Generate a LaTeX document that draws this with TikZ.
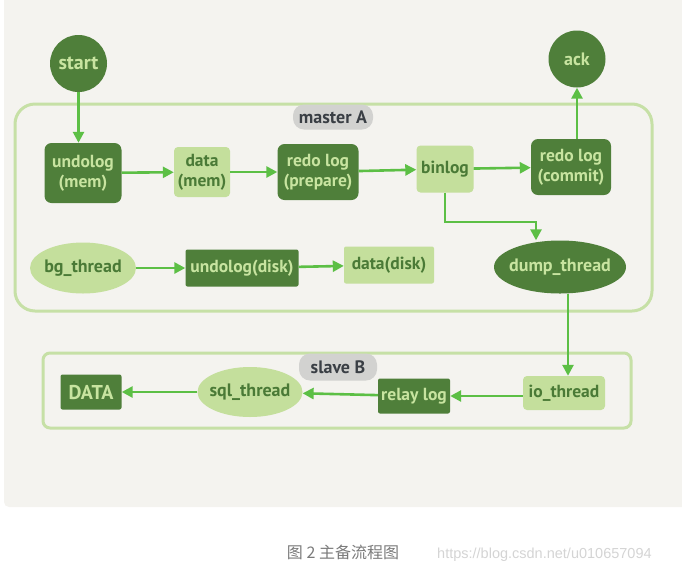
\documentclass[tikz,border=0pt]{standalone}
\usepackage{fontspec}
\setmainfont{PT Sans}
\newfontfamily\cjk{Noto Sans CJK SC}
\newfontfamily\wmfont{Liberation Sans}
\usetikzlibrary{arrows.meta,shapes.geometric}
\definecolor{bgpanel}{HTML}{F4F3EF}
\definecolor{dkgreen}{HTML}{4F7F3A}
\definecolor{ltgreen}{HTML}{C4DF9C}
\definecolor{dktext}{HTML}{4A7A36}
\definecolor{lttext}{HTML}{C8E4A0}
\definecolor{arrowgreen}{HTML}{5CBF45}
\definecolor{framegreen}{HTML}{C6E0A6}
\definecolor{labelgray}{HTML}{D2D2D0}
\definecolor{labeltext}{HTML}{3A3F45}
\definecolor{captiongray}{HTML}{7A7A7A}
\definecolor{wmgray}{HTML}{D4D4D4}
\newcommand{\zw}[1]{\makebox[0pt]{#1}}
\tikzset{
  dkbox/.style={rectangle, rounded corners=7pt, fill=dkgreen, text=lttext, font=\bfseries\fontsize{17.5}{20}\selectfont, align=center, inner sep=0pt},
  ltbox/.style={rectangle, rounded corners=4pt, fill=ltgreen, text=dktext, font=\bfseries\fontsize{17.5}{20}\selectfont, align=center, inner sep=0pt},
  dkell/.style={ellipse, fill=dkgreen, text=lttext, font=\bfseries\fontsize{18}{19}\selectfont, inner sep=0pt},
  ltell/.style={ellipse, fill=ltgreen, text=dktext, font=\bfseries\fontsize{18}{19}\selectfont, inner sep=0pt},
  tagbox/.style={rectangle, rounded corners=11pt, fill=labelgray, text=labeltext, font=\bfseries\fontsize{18}{19}\selectfont, inner sep=0pt},
  arr/.style={draw=arrowgreen, line width=2.6pt, -{Triangle[length=11pt,width=11pt]}},
  frame/.style={draw=framegreen, line width=3pt}
}
\begin{document}
\begin{tikzpicture}[x=1pt,y=-1pt]
\useasboundingbox (0,0) rectangle (682,574);
% background panel
\fill[bgpanel, rounded corners=5pt] (4,-10) rectangle (690,507);
% frames
\draw[frame, rounded corners=20pt] (15,104) rectangle (652,311);
\draw[frame, rounded corners=7pt] (43,353) rectangle (631,428);
% labels
\node[tagbox, minimum width=80pt, minimum height=25pt] (tagA) at (333,117) {master A};
\node[tagbox, minimum width=78pt, minimum height=27pt] (tagB) at (338,367) {slave B};
% nodes
\node[dkell, minimum width=57pt, minimum height=57pt, font=\bfseries\fontsize{20}{21}\selectfont] (start) at (78.5,63.5) {\zw{start}};
\node[dkell, minimum width=57pt, minimum height=57pt] (ack) at (577,59) {\zw{ack}};
\node[dkbox, minimum width=77pt, minimum height=60pt] (undomem) at (83,173) {undolog\\(mem)};
\node[ltbox, minimum width=56pt, minimum height=50pt] (datamem) at (202,172) {data\\(mem)};
\node[dkbox, minimum width=81pt, minimum height=56pt] (redoprep) at (318,172) {redo log\\(prepare)};
\node[ltbox, minimum width=57pt, minimum height=47pt] (binlog) at (445,169) {binlog};
\node[dkbox, minimum width=80pt, minimum height=56pt] (redocommit) at (571,167) {redo log\\(commit)};
\node[ltell, minimum width=106pt, minimum height=51pt] (bgthread) at (83,268) {\zw{bg\_thread}};
\node[dkbox, rounded corners=2pt, minimum width=113pt, minimum height=37pt] (undodisk) at (242,268) {undolog(disk)};
\node[ltbox, rounded corners=2pt, minimum width=90pt, minimum height=37pt] (datadisk) at (389,265) {data(disk)};
\node[dkell, minimum width=132pt, minimum height=53pt] (dump) at (560,267) {\zw{dump\_thread}};
\node[dkbox, rounded corners=2pt, minimum width=61pt, minimum height=35pt, font=\bfseries\fontsize{20}{21}\selectfont] (DATA) at (91,392) {DATA};
\node[ltell, minimum width=105pt, minimum height=50pt] (sql) at (250,392) {\zw{sql\_thread}};
\node[dkbox, rounded corners=2pt, minimum width=72pt, minimum height=35pt] (relay) at (414,396) {relay log};
\node[ltbox, rounded corners=4pt, minimum width=82pt, minimum height=34pt] (io) at (564,393) {io\_thread};
% connectors
\coordinate (bend) at (536,222);
\draw[arr] (start) -- (start |- undomem.north);
\draw[arr] (undomem) -- (datamem);
\draw[arr] (datamem) -- (redoprep);
\draw[arr] (redoprep) -- (binlog);
\draw[arr] (binlog) -- (redocommit);
\draw[arr] (ack |- redocommit.north) -- (ack.south);
\draw[arr] (binlog.south) |- (bend) -- (bend |- dump.north);
\draw[arr] (bgthread) -- (undodisk);
\draw[arr] (undodisk) -- (datadisk);
\draw[arr] ([xshift=8pt]dump.south) -- ([xshift=8pt]dump.south |- io.north);
\draw[arr] (io.west |- relay) -- (relay.east);
\draw[arr] (relay) -- (sql);
\draw[arr] (sql) -- (DATA);
% caption
\node[text=captiongray, font=\cjk\fontsize{16}{18}\selectfont, inner sep=0pt] (caption) at (343,552) {图 2 主备流程图};
\node[text=wmgray, font=\wmfont\fontsize{14.5}{16}\selectfont, inner sep=0pt, anchor=west] (wm) at (437,555) {https://blog.csdn.net/u010657094};
\end{tikzpicture}
\end{document}
